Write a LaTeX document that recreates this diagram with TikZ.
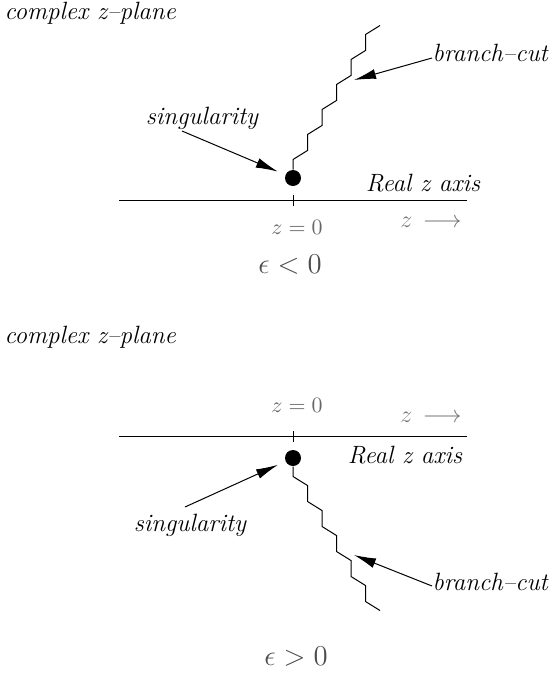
\documentclass[tikz,border=0pt]{standalone}
\usetikzlibrary{arrows.meta}
\definecolor{labgray}{gray}{0.4}
\definecolor{epsgray}{gray}{0.3}
\definecolor{dirgray}{gray}{0.45}
\tikzset{
  lbl/.style={font=\itshape\fontsize{12.5}{14}\selectfont,inner sep=0pt},
  pointer/.style={-{Latex[length=11pt,width=5pt]},shorten >=4pt},
  sing/.style={circle,fill,inner sep=0pt,minimum size=8pt},
  zlab/.style={text=labgray,font=\fontsize{11}{13}\selectfont,inner sep=0pt},
  epslab/.style={text=epsgray,font=\fontsize{14}{16}\selectfont,inner sep=0pt},
  dirlab/.style={text=dirgray,font=\fontsize{11.5}{13}\selectfont,inner sep=0pt}
}
\begin{document}
\begin{tikzpicture}[x=.5pt,y=-.5pt,line width=.5pt]
  \path[use as bounding box] (0,0) rectangle (555,675);
  % upper picture, epsilon < 0
  \node[lbl,anchor=west] (plane1) at (4,13) {complex z--plane};
  \coordinate (L1) at (119,200);
  \coordinate (R1) at (467,200);
  \coordinate (T1) at (293,200);
  \draw (L1)--(R1);
  \draw ([yshift=2.5pt]T1)--([yshift=-3pt]T1);
  \node[sing] (sing1) at (293,178) {};
  \draw (sing1.north) -- ++(0,-10) -- ++(14.5,-9) -- ++(0,-16)
    -- ++(14.5,-9) -- ++(0,-16) -- ++(14.5,-9) -- ++(0,-16)
    -- ++(14.5,-9) -- ++(0,-16) -- ++(14.5,-9) -- ++(0,-16)
    -- ++(14.5,-9);
  \coordinate (cut1) at (354,80);
  \node[lbl] (singlab1) at (202,118) {singularity};
  \coordinate (st1) at (182,131);
  \draw[pointer] (st1) -- (sing1);
  \node[lbl,anchor=west] (bcut1) at (432,53) {branch--cut};
  \draw[pointer,shorten >=0pt] ([yshift=-2.5pt]bcut1.west) -- (cut1);
  \node[lbl] (real1) at (423,183) {Real z axis};
  \node[zlab] (zero1) at (297,227) {$z=0$};
  \node[dirlab] (dir1) at (431,222) {$z\,\longrightarrow$};
  \node[epslab] (eps1) at (290,265) {$\epsilon<0$};
  % lower picture, epsilon > 0
  \node[lbl,anchor=west] (plane2) at (4,337) {complex z--plane};
  \coordinate (L2) at (119,436);
  \coordinate (R2) at (467,436);
  \coordinate (T2) at (293,436);
  \draw (L2)--(R2);
  \draw ([yshift=2.5pt]T2)--([yshift=-3pt]T2);
  \node[sing] (sing2) at (293,458) {};
  \draw (sing2.south) -- ++(0,10) -- ++(14.5,9) -- ++(0,16)
    -- ++(14.5,9) -- ++(0,16) -- ++(14.5,9) -- ++(0,16)
    -- ++(14.5,9) -- ++(0,16) -- ++(14.5,9) -- ++(0,16)
    -- ++(14.5,9);
  \coordinate (cut2) at (354,555);
  \node[lbl] (singlab2) at (190,525) {singularity};
  \coordinate (st2) at (185,507);
  \draw[pointer] (st2) -- (sing2);
  \node[lbl,anchor=west] (bcut2) at (432,582) {branch--cut};
  \draw[pointer,shorten >=0pt] ([yshift=-2pt]bcut2.west) -- (cut2);
  \node[lbl] (real2) at (405,455) {Real z axis};
  \node[zlab] (zero2) at (297,405) {$z=0$};
  \node[dirlab] (dir2) at (431,417) {$z\,\longrightarrow$};
  \node[epslab] (eps2) at (296,657) {$\epsilon>0$};
\end{tikzpicture}
\end{document}
